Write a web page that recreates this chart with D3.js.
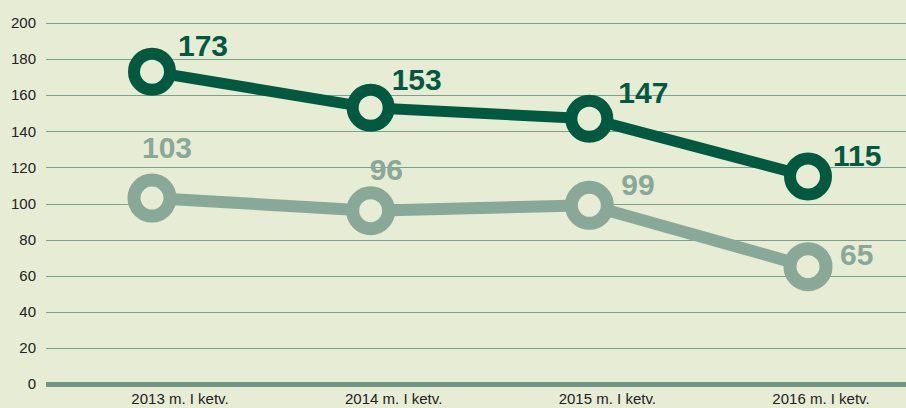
<!DOCTYPE html>
<html>
<head>
<meta charset="utf-8">
<script src="https://cdn.jsdelivr.net/npm/d3@7"></script>
<style>
  html, body { margin: 0; padding: 0; background: #e7ecd5; }
  svg { display: block; font-family: "Liberation Sans", Arial, sans-serif; }
</style>
</head>
<body>
<svg id="chart"></svg>
<script>
const categories = ['2013 m. I ketv.', '2014 m. I ketv.', '2015 m. I ketv.', '2016 m. I ketv.'];
const darkValues = [173, 153, 147, 115];
const lightValues = [103, 96, 99, 65];
const yTicks = [0, 20, 40, 60, 80, 100, 120, 140, 160, 180, 200];

// label placement relative to point (layout only)
const darkLabelOffset = [[26, -16], [21, -18], [29, -16], [25, -10]];
const lightLabelOffset = [[-10, -40], [-1, -31], [32, -10], [32, -2]];

const width = 906, height = 408;
const bg = '#e7ecd5';
const darkColor = '#015a40';
const lightColor = '#88a898';

const svg = d3.select('#chart')
    .attr('width', width)
    .attr('height', height);

svg.append('rect')
    .attr('width', width)
    .attr('height', height)
    .attr('fill', bg);

const xscale = d3.scalePoint()
    .domain(categories)
    .range([152, 808]);

const xlabelscale = d3.scalePoint()
    .domain(categories)
    .range([180, 821]);

const yscale = d3.scaleLinear()
    .domain([0, 200])
    .range([384, 23]);

// grid
const grid = svg.append('g');
grid.selectAll('line')
    .data(yTicks)
    .join('line')
    .attr('x1', 46)
    .attr('x2', width)
    .attr('y1', d => Math.round(yscale(d)) + 0.5)
    .attr('y2', d => Math.round(yscale(d)) + 0.5)
    .attr('stroke', d => d === 0 ? '#719684' : '#7ba08c')
    .attr('stroke-width', d => d === 0 ? 5 : 1);

// y axis labels
svg.append('g').selectAll('text')
    .data(yTicks)
    .join('text')
    .attr('x', 36)
    .attr('y', d => yscale(d))
    .attr('dy', '0.35em')
    .attr('text-anchor', 'end')
    .style('font-size', '15px')
    .attr('fill', '#222')
    .text(d => d);

// x labels
svg.append('g').selectAll('text')
    .data(categories)
    .join('text')
    .attr('x', d => xlabelscale(d))
    .attr('y', 404)
    .attr('text-anchor', 'middle')
    .style('font-size', '15px')
    .attr('fill', '#222')
    .text(d => d);

function drawSeries(values, color, lineWidth, radius, ringWidth, offsets) {
    const pts = values.map((v, i) => ({ key: categories[i], value: v, i: i }));
    const line = d3.line()
        .x(d => xscale(d.key))
        .y(d => yscale(d.value));

    svg.append('path')
        .attr('d', line(pts))
        .attr('fill', 'none')
        .attr('stroke', color)
        .attr('stroke-width', lineWidth)
        .attr('stroke-linejoin', 'round');

    svg.append('g').selectAll('circle')
        .data(pts)
        .join('circle')
        .attr('cx', d => xscale(d.key))
        .attr('cy', d => yscale(d.value))
        .attr('r', radius)
        .attr('fill', bg)
        .attr('stroke', color)
        .attr('stroke-width', ringWidth);

    svg.append('g').selectAll('text')
        .data(pts)
        .join('text')
        .attr('x', d => xscale(d.key) + offsets[d.i][0])
        .attr('y', d => yscale(d.value) + offsets[d.i][1])
        .style('font-size', '30px')
        .style('font-weight', 'bold')
        .attr('fill', color)
        .text(d => d.value);
}

drawSeries(lightValues, lightColor, 12, 18, 13, lightLabelOffset);
drawSeries(darkValues, darkColor, 11, 18, 12, darkLabelOffset);
</script>
</body>
</html>
